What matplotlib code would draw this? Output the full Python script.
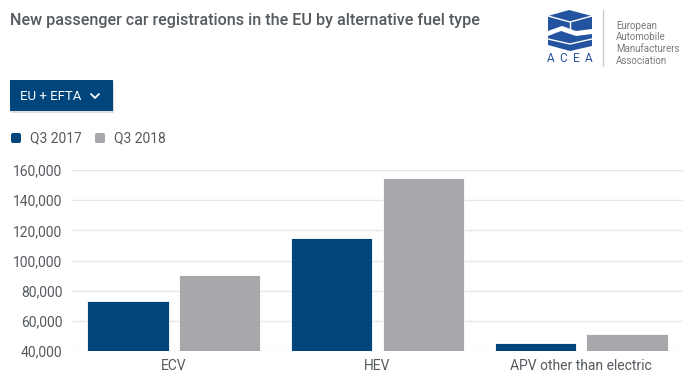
import numpy as np
import matplotlib.pyplot as plt
from matplotlib.patches import FancyBboxPatch, Polygon, Rectangle
from matplotlib.ticker import FuncFormatter

# ----- Data -----
categories = ["ECV", "HEV", "APV other than electric"]
q3_2017 = [73000, 114900, 45400]
q3_2018 = [90300, 154500, 51200]
series_names = ["Q3 2017", "Q3 2018"]
y_ticks = [40000, 60000, 80000, 100000, 120000, 140000, 160000]
title = "New passenger car registrations in the EU by alternative fuel type"
org_lines = ["European", "Automobile", "Manufacturers", "Association"]

# ----- Style -----
blue = "#00457c"
gray = "#a7a8ab"
text_col = "#555a5f"
logo_blue = "#2454a0"

plt.rcParams["font.family"] = ["Roboto", "DejaVu Sans"]

W, H = 694, 388
fig = plt.figure(figsize=(W / 100, H / 100), dpi=100)

# ----- Bar chart -----
ax = fig.add_axes([72 / W, 1 - 351 / H, 611 / W, 181 / H])
x = np.arange(len(categories))
ax.bar(x - 0.225, q3_2017, width=0.4, color=blue, edgecolor="white", linewidth=0.6, zorder=2)
ax.bar(x + 0.225, q3_2018, width=0.4, color=gray, edgecolor="white", linewidth=0.6, zorder=2)
ax.set_xlim(-0.5, 2.5)
ax.set_ylim(y_ticks[0], y_ticks[-1])
ax.set_yticks(y_ticks)
ax.yaxis.set_major_formatter(FuncFormatter(lambda v, p: f"{int(v):,}"))
ax.set_xticks(x)
ax.set_xticklabels(categories)
ax.tick_params(axis="y", length=0, pad=7, labelsize=10, labelcolor=text_col)
ax.tick_params(axis="x", length=0, pad=6, labelsize=10, labelcolor=text_col)
ax.grid(axis="y", color="#e6e6e6", linewidth=1, zorder=0)
for s in ax.spines.values():
    s.set_visible(False)

# ----- Overlay for header, button, legend, logo -----
ov = fig.add_axes([0, 0, 1, 1], zorder=5)
ov.set_xlim(0, W)
ov.set_ylim(H, 0)
ov.axis("off")

ov.text(10, 21, title, fontsize=11.6, fontweight="medium", color=text_col, va="center", ha="left")

# dropdown button
ov.add_patch(Rectangle((11, 82), 103, 31, color="#000000", alpha=0.12, lw=0))
ov.add_patch(Rectangle((10, 80), 103, 31, color=blue, lw=0))
ov.text(20, 96, "EU + EFTA", fontsize=9.5, color="white", va="center", ha="left")
ov.plot([91, 95, 99], [94, 98, 94], color="white", lw=1.3, solid_capstyle="round")

# legend
for name, col, lx in zip(series_names, [blue, gray], [10, 94]):
    ov.add_patch(FancyBboxPatch((lx + 1, 133), 10, 10, boxstyle="round,pad=0,rounding_size=2",
                                color=col, lw=0))
    ov.text(lx + 20, 138.5, name, fontsize=10, color=text_col, va="center", ha="left")

# ACEA logo (approximation)
ov.add_patch(Polygon([(548, 16), (569, 10), (592, 16), (592, 29), (576, 31), (562, 26), (548, 31)],
                     closed=True, color=logo_blue, lw=0))
ov.plot([548, 570, 592], [16, 22, 16], color="white", lw=1)
ov.plot([570, 570], [22, 29], color="white", lw=1)
ov.add_patch(Polygon([(548, 36), (561, 31), (576, 36), (592, 34), (592, 46), (570, 51), (548, 45)],
                     closed=True, color=logo_blue, lw=0))
ov.plot([548, 570, 592], [39, 44, 39], color="white", lw=1)
for letter, lx in zip("ACEA", [551, 563, 576, 589]):
    ov.text(lx, 58, letter, fontsize=8.5, color=logo_blue, va="center", ha="center")
ov.plot([603, 603], [10, 66], color="#cccccc", lw=1)
for i, line in enumerate(org_lines):
    ov.text(616, 26 + i * 11.5, line, fontsize=7, color="#7a7a7a", va="center", ha="left")

fig.savefig("out.png", dpi=100)
